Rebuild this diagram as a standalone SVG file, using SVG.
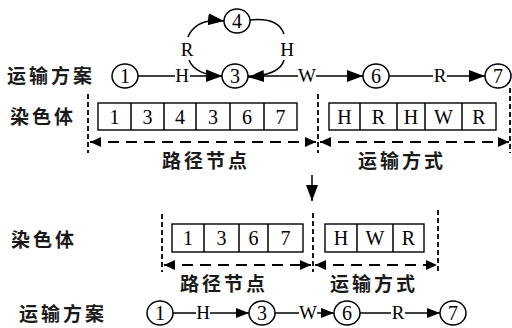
<svg xmlns="http://www.w3.org/2000/svg" width="512" height="328" viewBox="0 0 512 328">
<defs>
<marker id="ah" markerUnits="userSpaceOnUse" markerWidth="18" markerHeight="14" refX="16" refY="6" orient="auto"><path d="M0,0 L16,6 L0,12 z" fill="#000"/></marker>
<marker id="ahs" markerUnits="userSpaceOnUse" markerWidth="16" markerHeight="12" refX="13" refY="5" orient="auto"><path d="M0,0 L13,5 L0,10 z" fill="#000"/></marker>
<marker id="dh" markerUnits="userSpaceOnUse" markerWidth="14" markerHeight="12" refX="11" refY="5" orient="auto-start-reverse"><path d="M0,0 L11,5 L0,10 z" fill="#000"/></marker>
</defs>
<style>
.c{fill:#fff;stroke:#000;stroke-width:1.5}
.n{font-family:"Liberation Serif",serif;font-size:20px;text-anchor:middle;fill:#000}
.l{font-family:"Liberation Serif",serif;font-size:19px;text-anchor:middle;fill:#000}
.zh{font-family:"Noto Sans CJK SC",sans-serif;font-size:19px;font-weight:bold;fill:#1a1a1a;letter-spacing:3px}
.ln{stroke:#000;stroke-width:1.5;fill:none}
.box{fill:#fff;stroke:#000;stroke-width:1.4}
.dv{stroke:#000;stroke-width:1.8;stroke-dasharray:5,3;fill:none}
.dh{stroke:#000;stroke-width:1.8;stroke-dasharray:11,7;fill:none}
</style>

<!-- labels -->
<text class="zh" x="7" y="83">运输方案</text>
<text class="zh" x="10" y="124">染色体</text>
<text class="zh" x="162" y="168">路径节点</text>
<text class="zh" x="358" y="168">运输方式</text>
<text class="zh" x="11" y="247">染色体</text>
<text class="zh" x="180" y="291">路径节点</text>
<text class="zh" x="330" y="291">运输方式</text>
<text class="zh" x="19" y="321">运输方案</text>

<!-- connectors -->
<g id="connectors">
<line class="ln" x1="138" y1="76" x2="175" y2="76"/>
<line class="ln" x1="190" y1="76" x2="222" y2="76" marker-end="url(#ah)"/>
<path class="ln" d="M188,37 Q196,18 224,21" marker-end="url(#ah)"/>
<path class="ln" d="M250,20 Q278,17 284,34"/>
<path class="ln" d="M189,60 Q195,75 222,76" marker-end="url(#ah)"/>
<path class="ln" d="M284,60 Q280,75 248,77" marker-end="url(#ah)"/>
<line class="ln" x1="248" y1="76" x2="298" y2="76"/>
<line class="ln" x1="316" y1="76" x2="363" y2="76" marker-end="url(#ah)"/>
<line class="ln" x1="389" y1="76" x2="433" y2="76"/>
<line class="ln" x1="447" y1="76" x2="485" y2="76" marker-end="url(#ah)"/>
<text class="l" x="182" y="82">H</text>
<text class="l" x="187" y="56">R</text>
<text class="l" x="287" y="56">H</text>
<text class="l" x="307" y="82">W</text>
<text class="l" x="440" y="82">R</text>

<!-- dashed frames top -->
<line class="dv" x1="88" y1="94" x2="88" y2="153"/>
<line class="dv" x1="318" y1="94" x2="318" y2="153"/>
<line class="dv" x1="510" y1="88" x2="510" y2="153"/>
<line class="dh" x1="90" y1="142" x2="316" y2="142" marker-start="url(#dh)" marker-end="url(#dh)"/>
<line class="dh" x1="320" y1="142" x2="509" y2="142" marker-start="url(#dh)" marker-end="url(#dh)"/>

<!-- down arrow -->
<line class="ln" x1="312" y1="175" x2="312" y2="201" stroke-width="1.8" marker-end="url(#ah)"/>

<!-- dashed frames bottom -->
<line class="dv" x1="162" y1="214" x2="162" y2="272"/>
<line class="dv" x1="313" y1="213" x2="313" y2="272"/>
<line class="dv" x1="438" y1="210" x2="438" y2="272"/>
<line class="dh" x1="164" y1="265" x2="311" y2="265" marker-start="url(#dh)" marker-end="url(#dh)"/>
<line class="dh" x1="315" y1="265" x2="437" y2="265" marker-start="url(#dh)" marker-end="url(#dh)"/>

<!-- bottom row -->
<line class="ln" x1="173" y1="313" x2="196" y2="313"/>
<line class="ln" x1="210" y1="313" x2="249" y2="313" marker-end="url(#ahs)"/>
<line class="ln" x1="275" y1="313" x2="299" y2="313"/>
<line class="ln" x1="317" y1="313" x2="334" y2="313" marker-end="url(#ahs)"/>
<line class="ln" x1="360" y1="313" x2="391" y2="313"/>
<line class="ln" x1="405" y1="313" x2="440" y2="313" marker-end="url(#ahs)"/>
<text class="l" x="203" y="319">H</text>
<text class="l" x="308" y="319">W</text>
<text class="l" x="398" y="319">R</text>
</g>

<!-- top nodes -->
<g id="n1"><ellipse class="c" cx="125" cy="76" rx="13" ry="12"/><text class="n" x="125" y="83">1</text></g>
<g id="n3"><ellipse class="c" cx="235" cy="76" rx="13" ry="12"/><text class="n" x="235" y="83">3</text></g>
<g id="n4"><ellipse class="c" cx="237" cy="21" rx="13" ry="12"/><text class="n" x="237" y="28">4</text></g>
<g id="n6"><ellipse class="c" cx="376" cy="76" rx="13" ry="12"/><text class="n" x="376" y="83">6</text></g>
<g id="n7"><ellipse class="c" cx="498" cy="76" rx="13" ry="12"/><text class="n" x="498" y="83">7</text></g>

<!-- chromosome 1 -->
<g id="chrom1-nodes">
<rect class="box" x="98" y="103" width="199" height="27"/>
<path class="ln" d="M131,103V130M164,103V130M196,103V130M230,103V130M264,103V130" stroke-width="1.3"/>
<text class="n" x="114.5" y="124">1</text><text class="n" x="147.5" y="124">3</text><text class="n" x="180" y="124">4</text><text class="n" x="213" y="124">3</text><text class="n" x="247" y="124">6</text><text class="n" x="280.5" y="124">7</text>
</g>
<g id="chrom1-modes">
<rect class="box" x="329" y="103" width="167" height="27"/>
<path class="ln" d="M360,103V130M397,103V130M425,103V130M462,103V130" stroke-width="1.3"/>
<text class="n" x="344.5" y="124">H</text><text class="n" x="378.5" y="124">R</text><text class="n" x="411" y="124">H</text><text class="n" x="443.5" y="124">W</text><text class="n" x="479" y="124">R</text>
</g>

<!-- chromosome 2 -->
<g id="chrom2-nodes">
<rect class="box" x="172" y="224" width="131" height="28"/>
<path class="ln" d="M204,224V252M239,224V252M268,224V252" stroke-width="1.3"/>
<text class="n" x="188" y="245">1</text><text class="n" x="221.5" y="245">3</text><text class="n" x="253.5" y="245">6</text><text class="n" x="285.5" y="245">7</text>
</g>
<g id="chrom2-modes">
<rect class="box" x="325" y="224" width="99" height="28"/>
<path class="ln" d="M357,224V252M393,224V252" stroke-width="1.3"/>
<text class="n" x="341" y="245">H</text><text class="n" x="375" y="245">W</text><text class="n" x="408.5" y="245">R</text>
</g>

<!-- bottom nodes -->
<g id="b1"><ellipse class="c" cx="160" cy="313" rx="13" ry="12"/><text class="n" x="160" y="320">1</text></g>
<g id="b3"><ellipse class="c" cx="262" cy="313" rx="13" ry="12"/><text class="n" x="262" y="320">3</text></g>
<g id="b6"><ellipse class="c" cx="347" cy="313" rx="13" ry="12"/><text class="n" x="347" y="320">6</text></g>
<g id="b7"><ellipse class="c" cx="453" cy="313" rx="13" ry="12"/><text class="n" x="453" y="320">7</text></g>
</svg>
